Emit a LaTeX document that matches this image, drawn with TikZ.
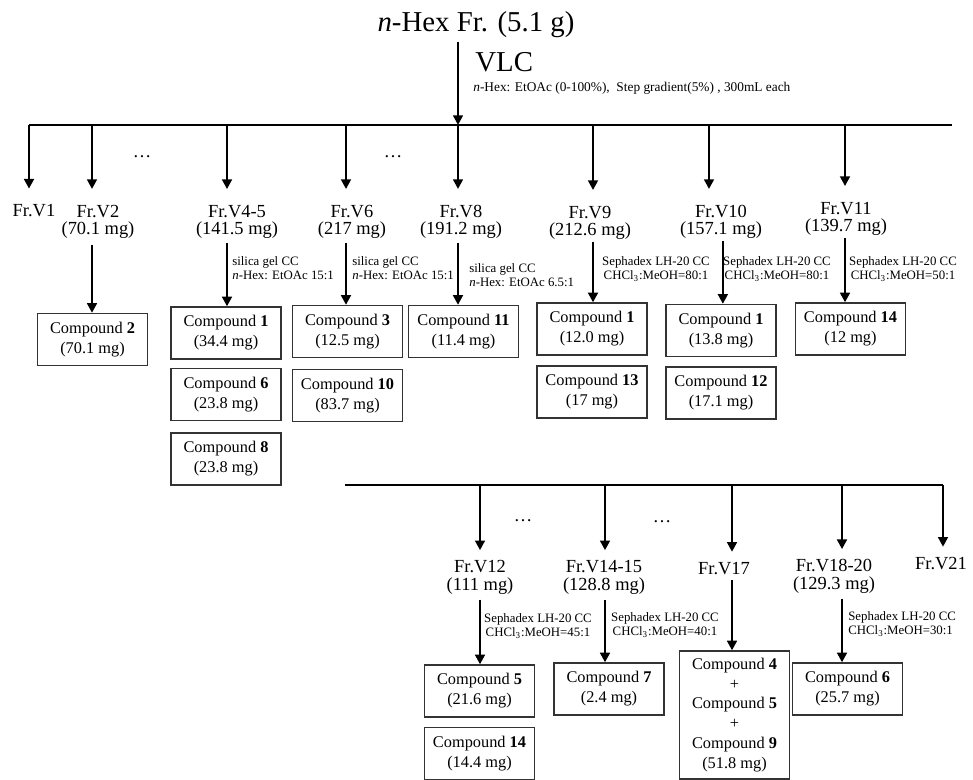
\documentclass[tikz,border=0pt]{standalone}
\usepackage{fontspec}
\setmainfont{Liberation Serif}
\usetikzlibrary{arrows.meta,calc}

\begin{document}
\begin{tikzpicture}[x=0.02cm,y=-0.02cm,
  arr/.style={line width=1.4pt,-{Triangle[length=5.5pt,width=5.5pt]}},
  bus/.style={line width=1.7pt},
  frac/.style={font=\fontsize{10.5pt}{10pt}\selectfont,align=center,inner sep=0pt,anchor=base},
  cmpd/.style={draw=black!80,line width=0.75pt,minimum width=2.2cm,minimum height=1.04cm,
    align=center,inner sep=1pt,font=\fontsize{9.3pt}{11.3pt}\selectfont},
  cond/.style={font=\fontsize{7.3pt}{8pt}\selectfont,inner sep=0pt},
  more/.style={font=\fontsize{10.5pt}{11pt}\selectfont,inner sep=0pt}]
\useasboundingbox (0,0) rectangle (973,780);

% starting fraction and VLC
\node[font=\fontsize{16.4pt}{18pt}\selectfont,anchor=base,inner sep=2pt] (hex) at (476,32) {\textit{n}-Hex Fr. (5.1 g)};
\node[font=\fontsize{16.4pt}{18pt}\selectfont,anchor=base west,inner sep=0pt] (vlc) at (475,72) {VLC};
\node[font=\fontsize{7.6pt}{8pt}\selectfont,anchor=base west,inner sep=0pt] (grad) at (473,92)
  {\textit{n}-Hex: EtOAc (0-100\%),\ \ Step gradient(5\%) , 300mL each};

% upper bus
\coordinate (b1) at (29,125);
\coordinate (b2) at (92,125);
\coordinate (b45) at (227,125);
\coordinate (b6) at (346,125);
\coordinate (b8) at (458,125);
\coordinate (b9) at (593,125);
\coordinate (b10) at (709,125);
\coordinate (b11) at (845,125);
\coordinate (bend) at (952,125);
\draw[bus] (b1) -- (bend);
\draw[arr] (hex.south -| b8) -- (b8);

\node[more] (d1) at (142,157) {\dots};
\node[more] (d2) at (393,157) {\dots};

% fractions V1-V11 (base = last line)
\node[frac] (v1) at (34,217) {Fr.V1};
\node[frac] (v2) at (98,235) {Fr.V2\\(70.1 mg)};
\node[frac] (v45) at (237,235) {Fr.V4-5\\(141.5 mg)};
\node[frac] (v6) at (352,235) {Fr.V6\\(217 mg)};
\node[frac] (v8) at (461,235) {Fr.V8\\(191.2 mg)};
\node[frac] (v9) at (590,236) {Fr.V9\\(212.6 mg)};
\node[frac] (v10) at (721,235) {Fr.V10\\(157.1 mg)};
\node[frac] (v11) at (846,232) {Fr.V11\\(139.7 mg)};

\draw[arr,shorten >=9pt] (b1) -- (b1 |- v1.north);
\draw[arr,shorten >=9pt] (b2) -- (b2 |- v2.north);
\draw[arr,shorten >=9pt] (b45) -- (b45 |- v45.north);
\draw[arr,shorten >=9pt] (b6) -- (b6 |- v6.north);
\draw[arr,shorten >=9pt] (b8) -- (b8 |- v8.north);
\draw[arr,shorten >=9pt] (b9) -- (b9 |- v9.north);
\draw[arr,shorten >=9pt] (b10) -- (b10 |- v10.north);
\draw[arr,shorten >=9pt] (b11) -- (b11 |- v11.north);

% column conditions
\node[cond,anchor=west,align=left] (cd45) at (232,268) {silica gel CC\\\textit{n}-Hex: EtOAc 15:1};
\node[cond,anchor=west,align=left] (cd6) at (352,268) {silica gel CC\\\textit{n}-Hex: EtOAc 15:1};
\node[cond,anchor=west,align=left] (cd8) at (469,275) {silica gel CC\\\textit{n}-Hex: EtOAc 6.5:1};
\node[cond,align=center] (cd9) at (656,269) {Sephadex LH-20 CC\\CHCl\textsubscript{3}:MeOH=80:1};
\node[cond,align=center] (cd10) at (777,269) {Sephadex LH-20 CC\\CHCl\textsubscript{3}:MeOH=80:1};
\node[cond,align=center] (cd11) at (903,269) {Sephadex LH-20 CC\\CHCl\textsubscript{3}:MeOH=50:1};

% compounds, upper part
\node[cmpd] (c2) at (92.5,339.5) {Compound \textbf{2}\\(70.1 mg)};
\node[cmpd] (c1a) at (226,333) {Compound \textbf{1}\\(34.4 mg)};
\node[cmpd] (c6a) at (226,394.5) {Compound \textbf{6}\\(23.8 mg)};
\node[cmpd] (c8) at (226,459) {Compound \textbf{8}\\(23.8 mg)};
\node[cmpd] (c3) at (347.5,331.5) {Compound \textbf{3}\\(12.5 mg)};
\node[cmpd] (c10) at (347.5,395.5) {Compound \textbf{10}\\(83.7 mg)};
\node[cmpd] (c11) at (463.5,331.5) {Compound \textbf{11}\\(11.4 mg)};
\node[cmpd] (c1b) at (592,329) {Compound \textbf{1}\\(12.0 mg)};
\node[cmpd] (c13) at (592,392) {Compound \textbf{13}\\(17 mg)};
\node[cmpd] (c1c) at (721,330.5) {Compound \textbf{1}\\(13.8 mg)};
\node[cmpd] (c12) at (721,393) {Compound \textbf{12}\\(17.1 mg)};
\node[cmpd] (c14a) at (850.5,329) {Compound \textbf{14}\\(12 mg)};

\draw[arr,shorten <=3pt] (v2.south -| b2) -- (c2.north -| b2);
\draw[arr,shorten <=2pt] (v45.south -| b45) -- (c1a.north -| b45);
\draw[arr,shorten <=2pt] (v6.south -| b6) -- (c3.north -| b6);
\draw[arr,shorten <=2pt] (v8.south -| b8) -- (c11.north -| b8);
\draw[arr,shorten <=1pt] (v9.south -| b9) -- (c1b.north -| b9);
\draw[arr,shorten <=1pt] (v10.south -| cd10.west) -- (c1c.north -| cd10.west);
\draw[arr,shorten <=1pt] (v11.south -| b11) -- (c14a.north -| b11);

% lower bus
\coordinate (bl) at (345,485);
\coordinate (p12) at (480,485);
\coordinate (p1415) at (605,485);
\coordinate (p17) at (732,485);
\coordinate (p1820) at (842,485);
\coordinate (p21) at (943,485);
\draw[bus] (bl) -- (p21);

\node[more] (d3) at (523,521) {\dots};
\node[more] (d4) at (662,522) {\dots};

% fractions V12-V21
\node[frac] (v12) at (480,590) {Fr.V12\\(111 mg)};
\node[frac] (v1415) at (604,590) {Fr.V14-15\\(128.8 mg)};
\node[frac] (v17) at (724,574) {Fr.V17};
\node[frac] (v1820) at (834,589) {Fr.V18-20\\(129.3 mg)};
\node[frac] (v21) at (941,569) {Fr.V21};

\draw[arr,shorten >=5.5pt] (p12) -- (p12 |- v12.north);
\draw[arr,shorten >=5.5pt] (p1415) -- (p1415 |- v1415.north);
\draw[arr,shorten >=5.5pt] (p17) -- (p17 |- v17.north);
\draw[arr,shorten >=5.5pt] (p1820) -- (p1820 |- v1820.north);
\draw[arr,shorten >=5.5pt] (p21) -- (p21 |- v21.north);

\node[cond,align=center] (cd12) at (538,626) {Sephadex LH-20 CC\\CHCl\textsubscript{3}:MeOH=45:1};
\node[cond,align=center] (cd1415) at (665,625) {Sephadex LH-20 CC\\CHCl\textsubscript{3}:MeOH=40:1};
\node[cond,anchor=west,align=left] (cd1820) at (848,624) {Sephadex LH-20 CC\\CHCl\textsubscript{3}:MeOH=30:1};

% compounds, lower part
\node[cmpd] (c5) at (479.5,691) {Compound \textbf{5}\\(21.6 mg)};
\node[cmpd] (c14b) at (479.5,753.5) {Compound \textbf{14}\\(14.4 mg)};
\node[cmpd] (c7) at (609,689) {Compound \textbf{7}\\(2.4 mg)};
\node[cmpd,minimum height=2.56cm] (c459) at (734.5,715)
  {Compound \textbf{4}\\+\\Compound \textbf{5}\\+\\Compound \textbf{9}\\(51.8 mg)};
\node[cmpd] (c6b) at (847.5,689) {Compound \textbf{6}\\(25.7 mg)};

\draw[arr,shorten <=3pt] (v12.south -| p12) -- (c5.north -| p12);
\draw[arr,shorten <=3pt] (v1415.south -| p1415) -- (c7.north -| p1415);
\draw[arr,shorten <=3pt] (v17.south -| p17) -- (c459.north -| p17);
\draw[arr,shorten <=3pt] (v1820.south -| p1820) -- (c6b.north -| p1820);
\end{tikzpicture}
\end{document}
